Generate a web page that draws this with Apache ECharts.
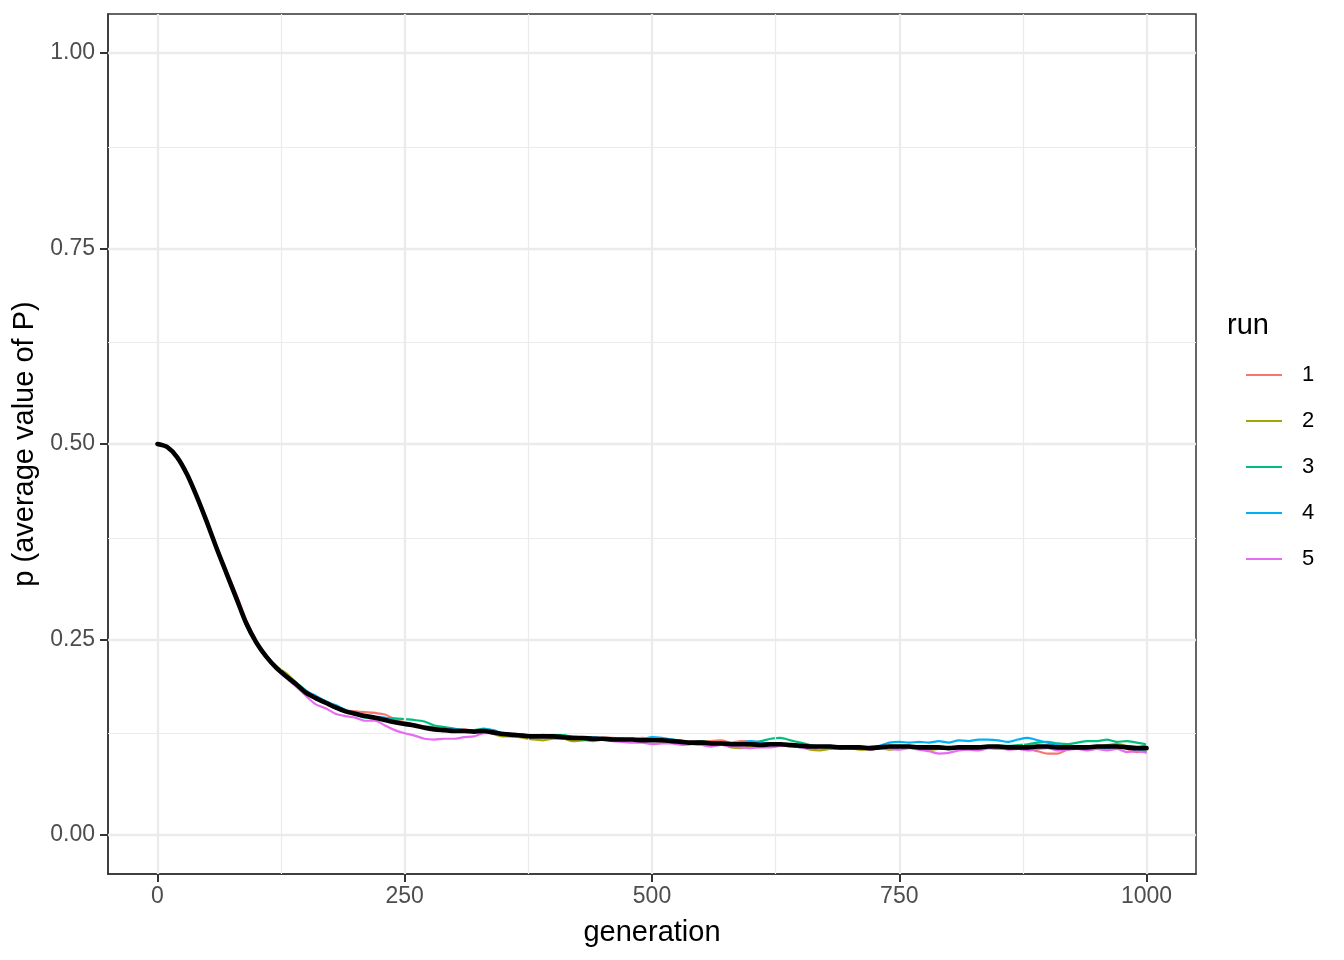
<!DOCTYPE html>
<html>
<head>
<meta charset="utf-8">
<script src="https://cdn.jsdelivr.net/npm/echarts@6/dist/echarts.min.js"></script>
<style>html,body{margin:0;padding:0;background:#fff}#c{width:1344px;height:960px}</style>
</head>
<body>
<div id="c"></div>
<script>
var generations = [0,10,20,30,40,50,60,70,80,90,100,110,120,130,140,150,160,170,180,190,200,210,220,230,240,250,260,270,280,290,300,310,320,330,340,350,360,370,380,390,400,410,420,430,440,450,460,470,480,490,500,510,520,530,540,550,560,570,580,590,600,610,620,630,640,650,660,670,680,690,700,710,720,730,740,750,760,770,780,790,800,810,820,830,840,850,860,870,880,890,900,910,920,930,940,950,960,970,980,990,1000];

var run1 = [.500,.496,.484,.461,.433,.401,.368,.337,.307,.274,.249,.230,.214,.202,.193,.183,.176,.169,.162,.159,.158,.157,.156,.154,.148,.144,.141,.139,.138,.136,.134,.135,.133,.133,.130,.129,.129,.127,.125,.127,.126,.126,.126,.124,.122,.124,.124,.123,.122,.124,.123,.122,.120,.118,.119,.120,.120,.121,.118,.120,.119,.116,.116,.115,.115,.115,.112,.113,.111,.111,.112,.111,.112,.112,.111,.112,.113,.113,.111,.110,.111,.113,.111,.112,.111,.110,.111,.112,.110,.107,.104,.104,.109,.111,.112,.111,.112,.114,.110,.106,.107];

var run2 = [.501,.497,.483,.460,.432,.399,.366,.333,.302,.270,.245,.228,.216,.207,.195,.182,.174,.169,.162,.158,.156,.152,.149,.147,.145,.142,.139,.138,.135,.135,.133,.132,.132,.134,.129,.126,.126,.124,.122,.121,.123,.123,.120,.121,.122,.123,.123,.121,.122,.120,.121,.119,.119,.119,.117,.115,.115,.116,.112,.111,.113,.113,.116,.115,.113,.113,.109,.108,.110,.110,.111,.109,.109,.111,.109,.111,.113,.111,.109,.110,.110,.112,.113,.111,.113,.112,.110,.111,.112,.114,.112,.112,.113,.110,.111,.113,.115,.116,.114,.112,.115];

var run3 = [.499,.496,.483,.462,.432,.400,.365,.332,.300,.267,.244,.227,.214,.204,.195,.185,.176,.171,.164,.158,.154,.150,.150,.149,.149,.148,.147,.145,.140,.138,.136,.134,.134,.136,.133,.129,.129,.129,.127,.126,.128,.128,.125,.122,.120,.122,.122,.123,.122,.120,.122,.121,.122,.120,.118,.120,.118,.117,.115,.116,.118,.120,.123,.124,.121,.118,.115,.113,.112,.113,.112,.111,.111,.111,.111,.112,.113,.113,.112,.111,.111,.113,.112,.111,.113,.114,.114,.115,.116,.118,.119,.117,.116,.118,.120,.120,.122,.119,.120,.118,.116];

var run4 = [.500,.496,.482,.460,.431,.400,.366,.333,.301,.268,.245,.228,.213,.203,.194,.184,.178,.171,.166,.160,.155,.151,.151,.150,.146,.143,.140,.138,.137,.135,.135,.134,.132,.135,.134,.129,.127,.127,.127,.128,.126,.124,.124,.125,.125,.123,.121,.120,.123,.123,.125,.124,.122,.120,.117,.116,.117,.118,.115,.118,.120,.118,.116,.115,.115,.112,.112,.113,.114,.112,.111,.110,.111,.114,.118,.119,.118,.119,.118,.120,.118,.121,.120,.122,.122,.121,.119,.122,.124,.121,.118,.115,.112,.110,.111,.110,.111,.113,.111,.108,.106];

var run5 = [.500,.495,.483,.461,.433,.400,.366,.334,.301,.270,.246,.228,.213,.201,.190,.178,.167,.162,.155,.152,.150,.146,.146,.140,.134,.130,.127,.123,.122,.123,.123,.125,.126,.130,.130,.129,.127,.125,.126,.125,.126,.126,.124,.123,.124,.123,.120,.119,.118,.118,.116,.117,.117,.115,.116,.115,.113,.115,.113,.112,.111,.112,.112,.114,.114,.112,.110,.112,.113,.113,.112,.111,.109,.111,.110,.109,.111,.109,.107,.104,.105,.108,.109,.108,.111,.112,.109,.110,.108,.110,.111,.108,.109,.110,.108,.110,.108,.110,.106,.107,.105];

var meanRun = [.500,.496,.483,.461,.432,.400,.366,.334,.302,.270,.246,.228,.214,.203,.193,.182,.175,.169,.163,.158,.155,.152,.150,.147,.144,.142,.140,.137,.135,.134,.133,.133,.132,.133,.131,.129,.128,.127,.126,.126,.126,.125,.124,.124,.123,.123,.122,.122,.122,.121,.121,.121,.120,.119,.118,.118,.117,.117,.116,.116,.116,.115,.116,.116,.115,.114,.113,.113,.113,.112,.112,.112,.111,.112,.113,.113,.113,.112,.112,.112,.111,.112,.112,.112,.113,.113,.112,.112,.112,.113,.113,.112,.112,.112,.112,.113,.113,.113,.112,.111,.111];

var runNames = ['1','2','3','4','5'];
var runColors = ['#F8766D','#A3A500','#00BF7D','#00B0F6','#E76BF3'];
var xTicks = [0,250,500,750,1000];
var xMinor = [125,375,625,875];
var yTicks = [0,0.25,0.5,0.75,1];
var yMinor = [0.125,0.375,0.625,0.875];

function pairs(vals){ return generations.map(function(g,i){ return [g, vals[i]]; }); }

var runs = [run1, run2, run3, run4, run5];
var FONT = 'Liberation Sans, Arial, Helvetica, sans-serif';

var gridLineData = [];
xTicks.forEach(function(v){ gridLineData.push({xAxis:v, lineStyle:{color:'#ebebeb', width:2.3, type:'solid'}}); });
yTicks.forEach(function(v){ gridLineData.push({yAxis:v, lineStyle:{color:'#ebebeb', width:2.3, type:'solid'}}); });
xMinor.forEach(function(v){ gridLineData.push({xAxis:v, lineStyle:{color:'#ebebeb', width:1.2, type:'solid'}}); });
yMinor.forEach(function(v){ gridLineData.push({yAxis:v, lineStyle:{color:'#ebebeb', width:1.2, type:'solid'}}); });

var series = [{
  type:'line', name:'_grid', data:[], z:1, silent:true,
  markLine:{silent:true, symbol:'none', animation:false, label:{show:false}, emphasis:{disabled:true}, data:gridLineData}
}];
runs.forEach(function(r,i){
  series.push({
    type:'line', name:runNames[i], data:pairs(r), showSymbol:false, z:2+i, smooth:0.25,
    lineStyle:{color:runColors[i], width:2.2, join:'round'}, itemStyle:{color:runColors[i]},
    emphasis:{disabled:true}
  });
});
series.push({
  type:'line', name:'mean', data:pairs(meanRun), showSymbol:false, z:10, smooth:0.3,
  lineStyle:{color:'#000', width:4.6, join:'round', cap:'round'}, itemStyle:{color:'#000'},
  emphasis:{disabled:true}
});

var chart = echarts.init(document.getElementById('c'), null, {renderer:'canvas'});
chart.setOption({
  animation:false,
  backgroundColor:'#fff',
  textStyle:{fontFamily:FONT},
  grid:{left:108, right:148, top:14, bottom:86, show:true, borderColor:'#333333', borderWidth:1.5, backgroundColor:'transparent', containLabel:false},
  xAxis:{
    type:'value', min:-50, max:1050,
    name:'generation', nameLocation:'middle', nameGap:44,
    nameTextStyle:{fontSize:29, color:'#000', fontFamily:FONT},
    axisLine:{show:true, onZero:false, lineStyle:{color:'#333333', width:1.5}},
    axisTick:{show:true, customValues:xTicks, length:8, lineStyle:{color:'#333333', width:2}},
    axisLabel:{show:true, customValues:xTicks, margin:11, fontSize:23, color:'#4d4d4d', fontFamily:FONT,
      formatter:function(v){ return String(v); }},
    splitLine:{show:false}, minorTick:{show:false}
  },
  yAxis:{
    type:'value', min:-0.05, max:1.05,
    name:'p (average value of P)', nameLocation:'middle', nameGap:62, nameRotate:90,
    nameTextStyle:{fontSize:29, color:'#000', fontFamily:FONT},
    axisLine:{show:true, onZero:false, lineStyle:{color:'#333333', width:1.5}},
    axisTick:{show:true, customValues:yTicks, length:8, lineStyle:{color:'#333333', width:2}},
    axisLabel:{show:true, customValues:yTicks, margin:13, fontSize:23, color:'#4d4d4d', fontFamily:FONT,
      formatter:function(v){ return v.toFixed(2); }},
    splitLine:{show:false}, minorTick:{show:false}
  },
  legend:{
    show:true, orient:'vertical', left:1246, top:364, padding:0,
    data:runNames, icon:'rect', itemWidth:36, itemHeight:2.2, itemGap:24,
    selectedMode:false,
    textStyle:{fontSize:22, lineHeight:22, color:'#000', fontFamily:FONT, padding:[0,0,0,15]}
  },
  graphic:[{
    type:'text', left:1227, top:311,
    style:{text:'run', fontSize:29, fill:'#000', fontFamily:FONT}
  }],
  series:series
});
</script>
</body>
</html>
